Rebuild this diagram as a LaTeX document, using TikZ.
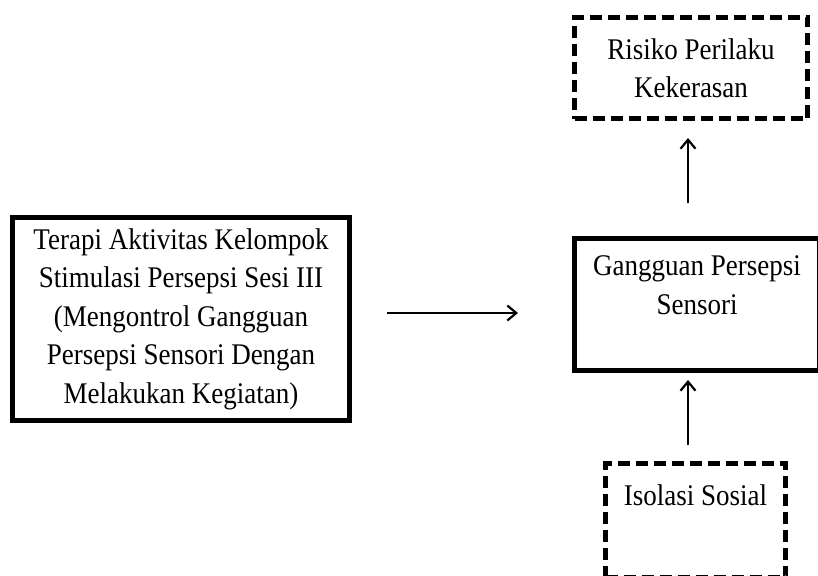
\documentclass[tikz,border=0pt]{standalone}
\usepackage{fontspec}
\setmainfont{Liberation Serif}[FakeStretch=0.9]
\usetikzlibrary{arrows.meta, positioning}

\begin{document}
\begin{tikzpicture}[x=1pt, y=-1pt,
    box/.style={draw, line width=5pt, align=center, inner sep=0pt,
      font=\fontsize{30}{38.5}\selectfont},
    dbox/.style={box, dash pattern=on 12pt off 6pt},
    arr/.style={-{Straight Barb[length=9pt, width=15pt]}, line width=2.2pt}]
  \useasboundingbox (0,0) rectangle (818,575);

  \node[box, minimum width=337pt, minimum height=203pt] (tak) at (181,319)
    {Terapi Aktivitas Kelompok\\Stimulasi Persepsi Sesi III\\(Mengontrol Gangguan\\Persepsi Sensori Dengan\\Melakukan Kegiatan)};
  \node[box, minimum width=245pt, minimum height=132pt] (gps) at (697,304.5)
    {Gangguan Persepsi\\Sensori\\~};
  \node[dbox, minimum width=233pt, minimum height=101pt] (rpk) at (691,68)
    {Risiko Perilaku\\Kekerasan};
  \node[dbox, minimum width=180pt, minimum height=114pt] (iso) at (695.5,520.5)
    {Isolasi Sosial\\[12pt]~};

  \coordinate (ax) at (688,0);

  \draw[arr, shorten <=35pt, shorten >=54pt] ([yshift=6pt]tak.east) -- ([yshift=6pt]tak.east -| gps.west);
  \draw[arr, shorten <=33pt, shorten >=17pt] (gps.north -| ax) -- (rpk.south -| ax);
  \draw[arr, shorten <=16pt, shorten >=7pt] (iso.north -| ax) -- (gps.south -| ax);
\end{tikzpicture}
\end{document}
